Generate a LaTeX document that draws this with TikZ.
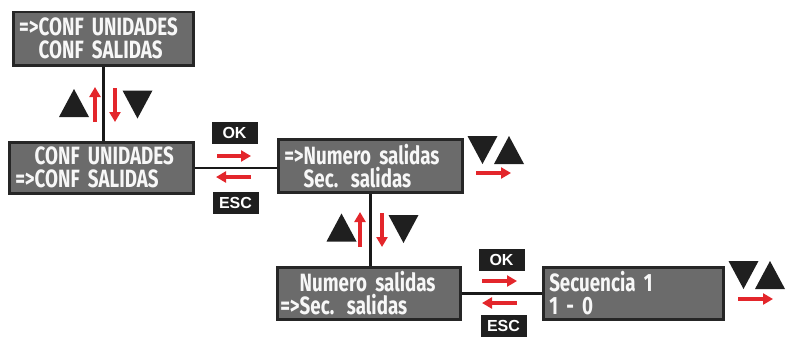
\documentclass[tikz,border=0pt]{standalone}
\usepackage{fontspec}
\setsansfont{Liberation Sans}
\newfontfamily\lcdfont[FakeStretch=0.75]{Fira Sans}
\usetikzlibrary{positioning, shapes.geometric, arrows.meta, calc}
\definecolor{lcdgray}{HTML}{6B6B6B}
\definecolor{lcdedge}{HTML}{262626}
\definecolor{keyred}{HTML}{E3262B}
\newcommand{\Sel}{=>}
\newcommand{\NoSel}{\phantom{=>}}
\tikzset{
    lcd/.style={draw=lcdedge, line width=2.5pt, fill=lcdgray, text=white!94!gray,
      font=\lcdfont\bfseries\fontsize{25}{23}\selectfont, align=left,
      anchor=north west, inner xsep=6pt, inner ysep=0pt, text width=#1},
    key/.style={fill=black!88, text=white, font=\sffamily\bfseries\fontsize{16}{16}\selectfont,
      minimum width=46pt, minimum height=22pt, inner sep=0pt},
    redarrow/.style={keyred, line width=3.5pt, -{Triangle[length=10pt, width=11pt]}},
    link/.style={line width=2.5pt, black!90},
    tri up/.pic = {
    \fill[black!88] (-15,14) -- (15,14) -- (0,-14) -- cycle;
    },
    tri down/.pic = {
    \fill[black!88] (-15,-14) -- (15,-14) -- (0,14) -- cycle;
    },
}

\begin{document}
\begin{tikzpicture}[x=1pt, y=-1pt]
    \useasboundingbox (0,0) rectangle (789,337);

    % menu screens
    \node[lcd=168pt, minimum height=53pt] (units) at (12,11) {\mbox{\Sel CONF UNIDADES}\\\NoSel CONF SALIDAS};
    \node[lcd=172pt, minimum height=51pt] (outputs) at (8,141) {\NoSel CONF UNIDADES\\\mbox{\Sel CONF SALIDAS}};
    \node[lcd=172pt, minimum height=53pt] (number) at (277,138) {\mbox{\Sel Numero salidas}\\\NoSel Sec. salidas};
    \node[lcd=177pt, minimum height=52pt, inner xsep=3pt] (sequence) at (276,266) {\NoSel Numero salidas\\\mbox{\Sel Sec. salidas}};
    \node[lcd=168pt, minimum height=52pt] (step1) at (542,266) {Secuencia 1\\1 - 0};

    % connectors
    \draw[link] (units.south) -- (units.south |- outputs.north);
    \draw[link] (number.south) -- (number.south |- sequence.north);
    \draw[link] (outputs.east) -- (outputs.east -| number.west);
    \draw[link] (sequence.east) -- (sequence.east -| step1.west);

    % keys
    \node[key] (ok1) at (234.5,133) {OK};
    \node[key] (esc1) at (235.5,202.5) {ESC};
    \node[key] (ok2) at (501.5,259.5) {OK};
    \node[key] (esc2) at (503.5,326) {ESC};

    % up / down between screens
    \pic at (74,103) {tri up};
    \pic at (137.5,104.5) {tri down};
    \draw[redarrow] (95,122) -- (95,87);
    \draw[redarrow] (115,88) -- (115,122);

    \pic at (341.5,227.5) {tri up};
    \pic at (403.5,229) {tri down};
    \draw[redarrow] (360,247) -- (360,212);
    \draw[redarrow] (382,213) -- (382,247);

    % enter / back
    \draw[redarrow] (217,156) -- (251,156);
    \draw[redarrow] (251,177) -- (216,177);
    \draw[redarrow] (482,281) -- (517,281);
    \draw[redarrow] (517,303) -- (482,303);

    % scroll hints
    \pic at (482.5,150) {tri down};
    \pic at (509,150) {tri up};
    \draw[redarrow] (476,173) -- (511,173);
    \pic at (743.5,275) {tri down};
    \pic at (770,275) {tri up};
    \draw[redarrow] (738,299) -- (773,299);
\end{tikzpicture}
\end{document}
